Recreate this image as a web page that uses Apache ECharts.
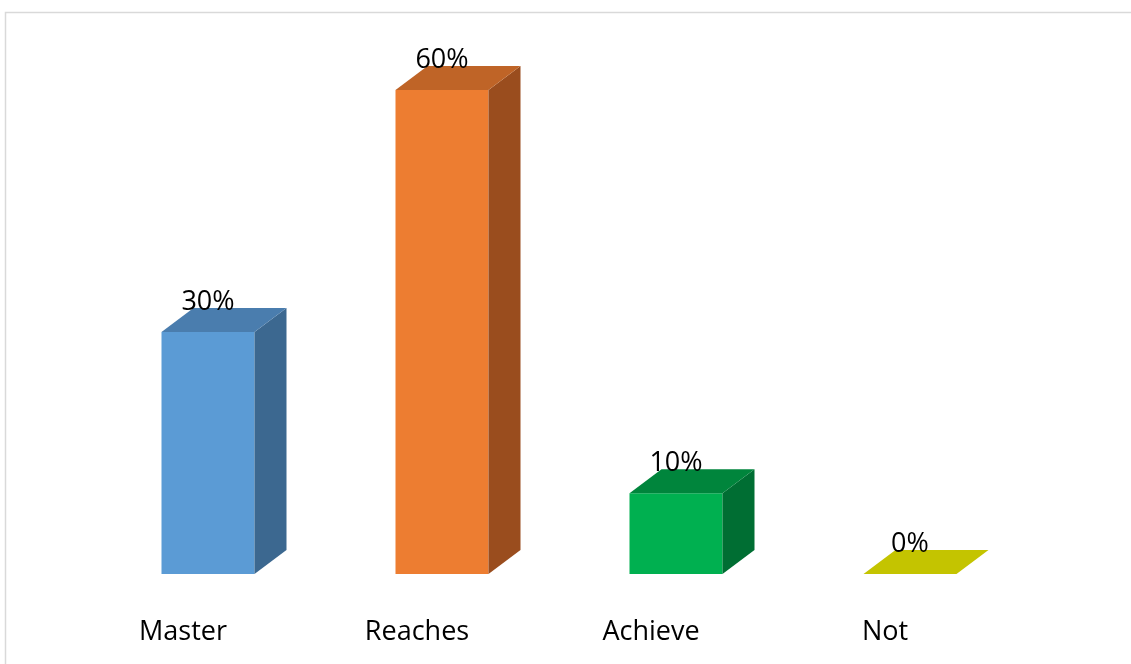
<!DOCTYPE html>
<html><head><meta charset="utf-8">
<script src="https://cdn.jsdelivr.net/npm/echarts@6/dist/echarts.min.js"></script>
<style>html,body{margin:0;padding:0;background:#fff}#c{width:1131px;height:664px}</style>
</head><body><div id="c"></div>
<script>
const categories = ['Master', 'Reaches', 'Achieve', 'Not'];
const values = [30, 60, 10, 0];
const labels = ['30%', '60%', '10%', '0%'];
const frontColors = ['#5B9BD5', '#ED7D31', '#00B050', '#C4C400'];
const topColors = ['#4A7DAE', '#BF6427', '#00853C', '#C4C400'];
const sideColors = ['#3C6890', '#9A4D1E', '#006E33', '#9E9E00'];

const chart = echarts.init(document.getElementById('c'));
const DX = 32, DY = 24, HALF = 46.5;

chart.setOption({
  animation: false,
  graphic: [{type: 'rect', left: 3, top: 10, shape: {width: 1140, height: 700}, style: {fill: 'none', stroke: '#D9D9D9', lineWidth: 1.5}, silent: true, z: -1}],
  grid: {left: 91, right: 104, top: 90, bottom: 90},
  xAxis: {type: 'category', data: categories, axisLine: {show: false}, axisTick: {show: false},
    axisLabel: {fontFamily: 'Open Sans', fontSize: 27, color: '#000', margin: 45, padding: [0, 50, 0, 0]}},
  yAxis: {type: 'value', min: 0, max: 60, show: false, splitLine: {show: false}},
  series: [{
    type: 'custom',
    data: values.map((v, i) => [i, v]),
    renderItem: function (params, api) {
      const i = api.value(0);
      const top = api.coord([i, api.value(1)]);
      const base = api.coord([i, 0]);
      const x0 = top[0] - HALF, x1 = top[0] + HALF;
      const yT = top[1], yB = base[1];
      const children = [];
      if (yB - yT > 0.5) {
        children.push({type: 'polygon', shape: {points: [[x0, yT], [x1, yT], [x1, yB], [x0, yB]]}, style: {fill: frontColors[i]}});
        children.push({type: 'polygon', shape: {points: [[x1, yT], [x1 + DX, yT - DY], [x1 + DX, yB - DY], [x1, yB]]}, style: {fill: sideColors[i]}});
      }
      children.push({type: 'polygon', shape: {points: [[x0, yT], [x0 + DX, yT - DY], [x1 + DX, yT - DY], [x1, yT]]}, style: {fill: topColors[i]}});
      children.push({type: 'text', style: {text: labels[i], x: top[0], y: yT - 30, align: 'center', verticalAlign: 'middle', fontFamily: 'Open Sans', fontSize: 27, fill: '#000'}});
      return {type: 'group', children: children};
    }
  }]
});
</script></body></html>
